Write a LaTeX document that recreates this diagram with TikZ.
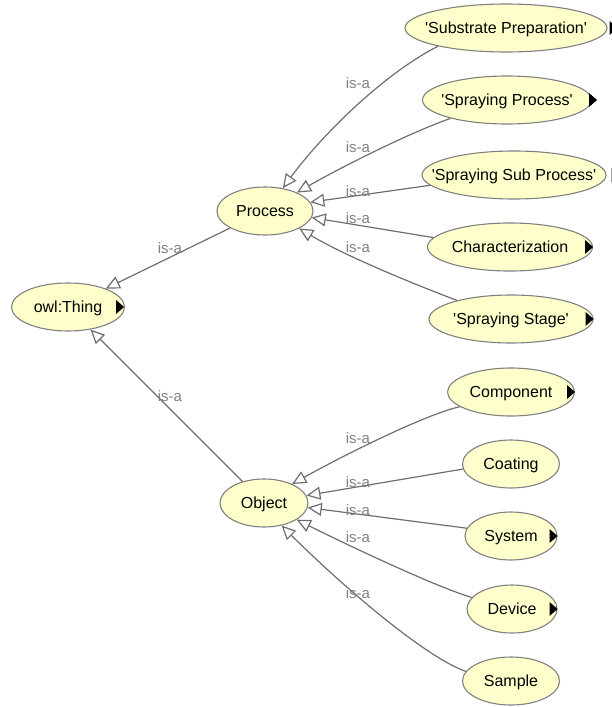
\documentclass[tikz,border=0pt]{standalone}
\usepackage{fontspec}
\setmainfont{Liberation Sans}
\usetikzlibrary{arrows.meta,shapes.geometric}
\definecolor{classfill}{HTML}{FFFFCC}
\definecolor{classline}{HTML}{808080}
\definecolor{edgeline}{HTML}{6E6E6E}
\definecolor{labelgray}{HTML}{808080}
% class names are centred in a zero-width box so the ellipse keeps its set width
\newcommand{\clsname}[1]{\makebox[0pt]{#1}}
\newcommand{\q}{\textquotesingle}

\begin{document}
\begin{tikzpicture}[x=1pt,y=-1pt,
  cls/.style={ellipse, draw=classline, fill=classfill, line width=1.1pt,
    minimum height=48pt, inner sep=0pt, text height=13pt, text depth=3pt,
    font=\fontsize{16pt}{19pt}\selectfont},
  isa/.style={-{Triangle[length=14pt,width=13pt,fill=white]}, draw=edgeline, line width=1.2pt},
  isalabel/.style={text=labelgray, inner sep=0pt, font=\fontsize{15pt}{18pt}\selectfont}
]
\useasboundingbox (0,0) rectangle (612,707);
\clip (0,0) rectangle (612,707);

% classes
\node[cls, minimum width=113pt] (thing)     at (68,307)  {\clsname{owl:Thing}};
\node[cls, minimum width=96pt]  (process)   at (265,211) {\clsname{Process}};
\node[cls, minimum width=88pt]  (object)    at (264,503) {\clsname{Object}};

\node[cls, minimum width=202pt] (subprep)   at (506,28)  {\clsname{\q Substrate Preparation\q}};
\node[cls, minimum width=169pt] (sprproc)   at (507,100) {\clsname{\q Spraying Process\q}};
\node[cls, minimum width=184pt] (subproc)   at (514,175) {\clsname{\q Spraying Sub Process\q}};
\node[cls, minimum width=165pt] (char)      at (510,247) {\clsname{Characterization}};
\node[cls, minimum width=164pt] (stage)     at (511,319) {\clsname{\q Spraying Stage\q}};

\node[cls, minimum width=127pt] (component) at (511,392) {\clsname{Component}};
\node[cls, minimum width=97pt]  (coating)   at (511,464) {\clsname{Coating}};
\node[cls, minimum width=92pt]  (system)    at (511,536) {\clsname{System}};
\node[cls, minimum width=90pt]  (device)    at (512,609) {\clsname{Device}};
\node[cls, minimum width=97pt]  (sample)    at (511,681) {\clsname{Sample}};

% expand markers on classes that have subclasses
\foreach \n/\dx in {thing/-1, sprproc/5, char/0, stage/0, component/0, system/0, device/0, subprep/10, subproc/13}
  \fill[black] ([xshift=\dx pt]\n.east) -- ++(-8,-7) -- ++(0,14) -- cycle;

% is-a edges
\draw[isa] (process) -- (thing);
\draw[isa] (object) -- (thing);

\draw[isa] (subprep.195) .. controls +(-55,28) and +(38,-52) .. (process.52);
\draw[isa] (sprproc.198) .. controls +(-45,16) and +(40,-23) .. (process.30);
\draw[isa] (subproc.187) -- (process.11);
\draw[isa] (char.173) -- (process.352);
\draw[isa] (stage.161) .. controls +(-45,-17) and +(45,27) .. (process.333);

\draw[isa] (component.196) .. controls +(-35,8) and +(50,-28) .. (object.34);
\draw[isa] (coating.186) -- (object.10);
\draw[isa] (system.170) -- (object.354);
\draw[isa] (device.164) .. controls +(-40,-12) and +(40,20) .. (object.333);
\draw[isa] (sample.168) .. controls +(-45,-16) and +(50,50) .. (object.308);

% edge labels
\node[isalabel] (l1)  at (170,248) {is-a};
\node[isalabel] (l2)  at (170,396) {is-a};
\node[isalabel] (l3)  at (358,83)  {is-a};
\node[isalabel] (l4)  at (358,147) {is-a};
\node[isalabel] (l5)  at (358,191) {is-a};
\node[isalabel] (l6)  at (358,218) {is-a};
\node[isalabel] (l7)  at (358,247) {is-a};
\node[isalabel] (l8)  at (358,438) {is-a};
\node[isalabel] (l9)  at (358,482) {is-a};
\node[isalabel] (l10) at (358,510) {is-a};
\node[isalabel] (l11) at (358,537) {is-a};
\node[isalabel] (l12) at (358,593) {is-a};
\end{tikzpicture}
\end{document}
